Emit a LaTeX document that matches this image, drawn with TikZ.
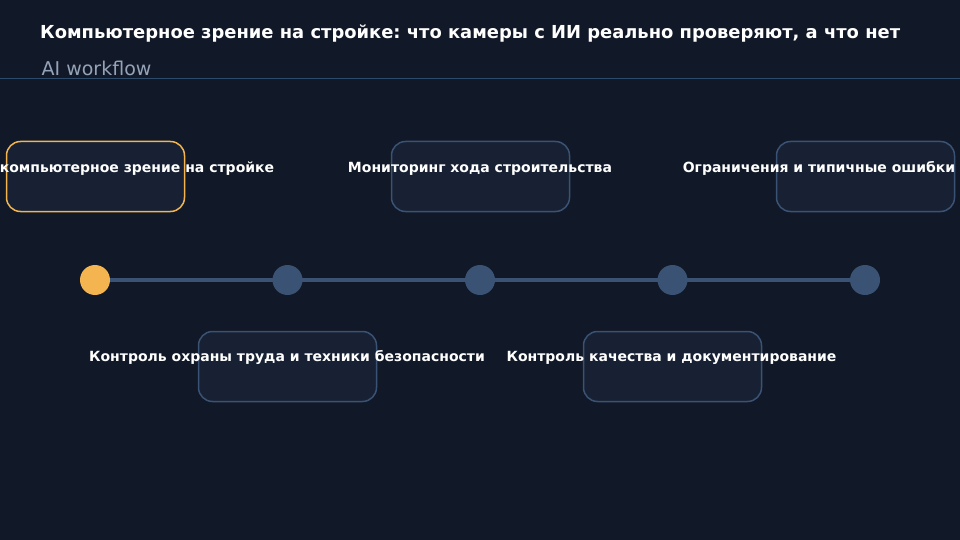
\documentclass[tikz,border=0pt]{standalone}
\usepackage{fontspec}
\setmainfont{DejaVu Sans}
\usetikzlibrary{backgrounds}
\frenchspacing
\begin{document}
\definecolor{bg}{HTML}{111827}
\definecolor{boxfill}{HTML}{172133}
\definecolor{slate}{HTML}{3A5374}
\definecolor{hdr}{HTML}{2E4A6B}
\definecolor{accent}{HTML}{F4B550}
\definecolor{subgray}{HTML}{94A3B8}
\begin{tikzpicture}[x=1pt,y=-1pt,
  card/.style={draw=slate, fill=boxfill, line width=1.5pt, rounded corners=14pt,
    minimum width=178pt, minimum height=70pt, inner sep=0pt},
  accentcard/.style={card, draw=accent},
  lbl/.style={text=white, font=\bfseries\fontsize{14}{16}\selectfont, inner sep=0pt, anchor=base},
  dot/.style={circle, fill=slate, minimum size=30pt, inner sep=0pt},
  accentdot/.style={dot, fill=accent},
  track/.style={draw=slate, line width=4pt}]
\useasboundingbox (0,0) rectangle (960,540);
\node[anchor=base west, text=white, font=\bfseries\fontsize{17.9}{20}\selectfont, inner sep=0pt] (title) at (40,39) {Компьютерное зрение на стройке: что камеры с ИИ реально проверяют, а что нет};
\node[anchor=base west, text=subgray, font=\fontsize{19}{22}\selectfont, inner sep=0pt] (sub) at (41.5,76) {AI workflow};
\coordinate (hl) at (0,78.5);
\coordinate (hr) at (960,78.5);
\draw[hdr, line width=1pt] (hl) -- (hr);
% boxes
\node[accentcard] (b1) at (95.5,176.5) {};
\node[card] (b2) at (480.5,176.5) {};
\node[card] (b3) at (865.5,176.5) {};
\node[card] (b4) at (287.5,366.5) {};
\node[card] (b5) at (672.5,366.5) {};
% track
\node[accentdot] (c1) at (95,280) {};
\node[dot] (c2) at (287.5,280) {};
\node[dot] (c3) at (480,280) {};
\node[dot] (c4) at (672.5,280) {};
\node[dot] (c5) at (865,280) {};
\begin{scope}[on background layer]
\fill[bg] (0,0) rectangle (960,540);
\draw[track] (c1.center) -- (c5.center);
\end{scope}
% labels
\node[lbl] (l1) at (137,172) {компьютерное зрение на стройке};
\node[lbl] (l2) at (480,172) {Мониторинг хода строительства};
\node[lbl] (l3) at (819,172) {Ограничения и типичные ошибки};
\node[lbl] (l4) at (287,361.5) {Контроль охраны труда и техники безопасности};
\node[lbl] (l5) at (671.5,361.5) {Контроль качества и документирование};
\end{tikzpicture}
\end{document}
